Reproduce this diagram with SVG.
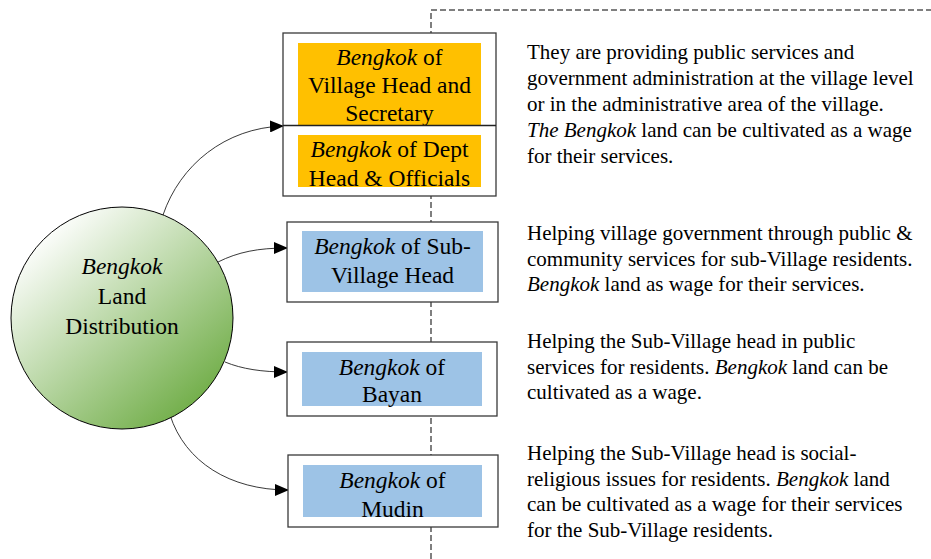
<svg xmlns="http://www.w3.org/2000/svg" width="931" height="559" viewBox="0 0 931 559">
<style>
text{font-family:'Liberation Serif',Tinos,'Times New Roman','DejaVu Serif',serif;fill:#000}
.b{font-size:23.5px;text-anchor:middle}
.d{font-size:21px}
.it{font-style:italic}
.box{fill:#fff;stroke:#3a3a3a;stroke-width:1.3}
.or{fill:#FFC000}
.bl{fill:#9DC3E6}
.con{fill:none;stroke:#222;stroke-width:0.9}
.dash{fill:none;stroke:#555;stroke-width:1.5;stroke-dasharray:6,3}
</style>
<defs>
<linearGradient id="g" x1="0.15" y1="0.1" x2="0.85" y2="0.9">
<stop offset="0" stop-color="#ffffff"/>
<stop offset="1" stop-color="#70AD47"/>
</linearGradient>
<marker id="ah" markerWidth="14" markerHeight="12" refX="13" refY="6" orient="auto" markerUnits="userSpaceOnUse">
<path d="M0,0 L14,6 L0,12 Z" fill="#000"/>
</marker>
<clipPath id="c1"><rect x="298" y="135" width="183" height="52"/></clipPath>
<clipPath id="c4"><rect x="303" y="465" width="179" height="52"/></clipPath>
</defs>
<g id="guide">
<path class="dash" d="M431,559 L431,10 L931,10"/>
</g>
<g id="connectors">
<path class="con" d="M163,215 C180,165 225,128 283,126" marker-end="url(#ah)"/>
<path class="con" d="M218,262 C238,252 258,248 287,248" marker-end="url(#ah)"/>
<path class="con" d="M225,362 C242,369 262,372 287,372" marker-end="url(#ah)"/>
<path class="con" d="M170,415 C185,462 230,490 288,490" marker-end="url(#ah)"/>
</g>
<g id="circle">
<circle cx="122" cy="318" r="111" fill="url(#g)" stroke="#000" stroke-width="1"/>
<text class="b it" x="122" y="274">Bengkok</text>
<text class="b" x="122" y="304">Land</text>
<text class="b" x="122" y="334">Distribution</text>
</g>
<g id="box1">
<rect class="box" x="283" y="33" width="213" height="163"/>
<rect class="or" x="298" y="43" width="183" height="82"/>
<text class="b" x="389.5" y="65"><tspan class="it">Bengkok</tspan> of</text>
<text class="b" x="389.5" y="93">Village Head and</text>
<text class="b" x="389.5" y="121">Secretary</text>
<line x1="283" y1="125.5" x2="496" y2="125.5" stroke="#222" stroke-width="1.3"/>
<rect class="or" x="298" y="135" width="183" height="52"/>
<g clip-path="url(#c1)">
<text class="b" x="389.5" y="157"><tspan class="it">Bengkok</tspan> of Dept</text>
<text class="b" x="389.5" y="186">Head &amp; Officials</text>
</g>
</g>
<g id="box2">
<rect class="box" x="287" y="222" width="211" height="80"/>
<rect class="bl" x="302" y="231" width="181" height="61"/>
<text class="b" x="392.5" y="254"><tspan class="it">Bengkok</tspan> of Sub-</text>
<text class="b" x="392.5" y="283">Village Head</text>
</g>
<g id="box3">
<rect class="box" x="287" y="342" width="210" height="74"/>
<rect class="bl" x="302" y="352" width="180" height="54"/>
<text class="b" x="392" y="375"><tspan class="it">Bengkok</tspan> of</text>
<text class="b" x="392" y="402">Bayan</text>
</g>
<g id="box4">
<rect class="box" x="288" y="455" width="210" height="72"/>
<rect class="bl" x="303" y="465" width="179" height="52"/>
<g clip-path="url(#c4)">
<text class="b" x="392.5" y="488"><tspan class="it">Bengkok</tspan> of</text>
<text class="b" x="392.5" y="517">Mudin</text>
</g>
</g>
<g id="desc1">
<text class="d" x="527" y="59">They are providing public services and</text>
<text class="d" x="527" y="85">government administration at the village level</text>
<text class="d" x="527" y="111">or in the administrative area of the village.</text>
<text class="d" x="527" y="137"><tspan class="it">The Bengkok</tspan> land can be cultivated as a wage</text>
<text class="d" x="527" y="163">for their services.</text>
</g>
<g id="desc2">
<text class="d" x="527" y="240">Helping village government through public &amp;</text>
<text class="d" x="527" y="265.5">community services for sub-Village residents.</text>
<text class="d" x="527" y="291"><tspan class="it">Bengkok</tspan> land as wage for their services.</text>
</g>
<g id="desc3">
<text class="d" x="527" y="348">Helping the Sub-Village head in public</text>
<text class="d" x="527" y="374">services for residents. <tspan class="it">Bengkok</tspan> land can be</text>
<text class="d" x="527" y="399">cultivated as a wage.</text>
</g>
<g id="desc4">
<text class="d" x="527" y="460">Helping the Sub-Village head is social-</text>
<text class="d" x="527" y="486">religious issues for residents. <tspan class="it">Bengkok</tspan> land</text>
<text class="d" x="527" y="511">can be cultivated as a wage for their services</text>
<text class="d" x="527" y="537">for the Sub-Village residents.</text>
</g>
</svg>
